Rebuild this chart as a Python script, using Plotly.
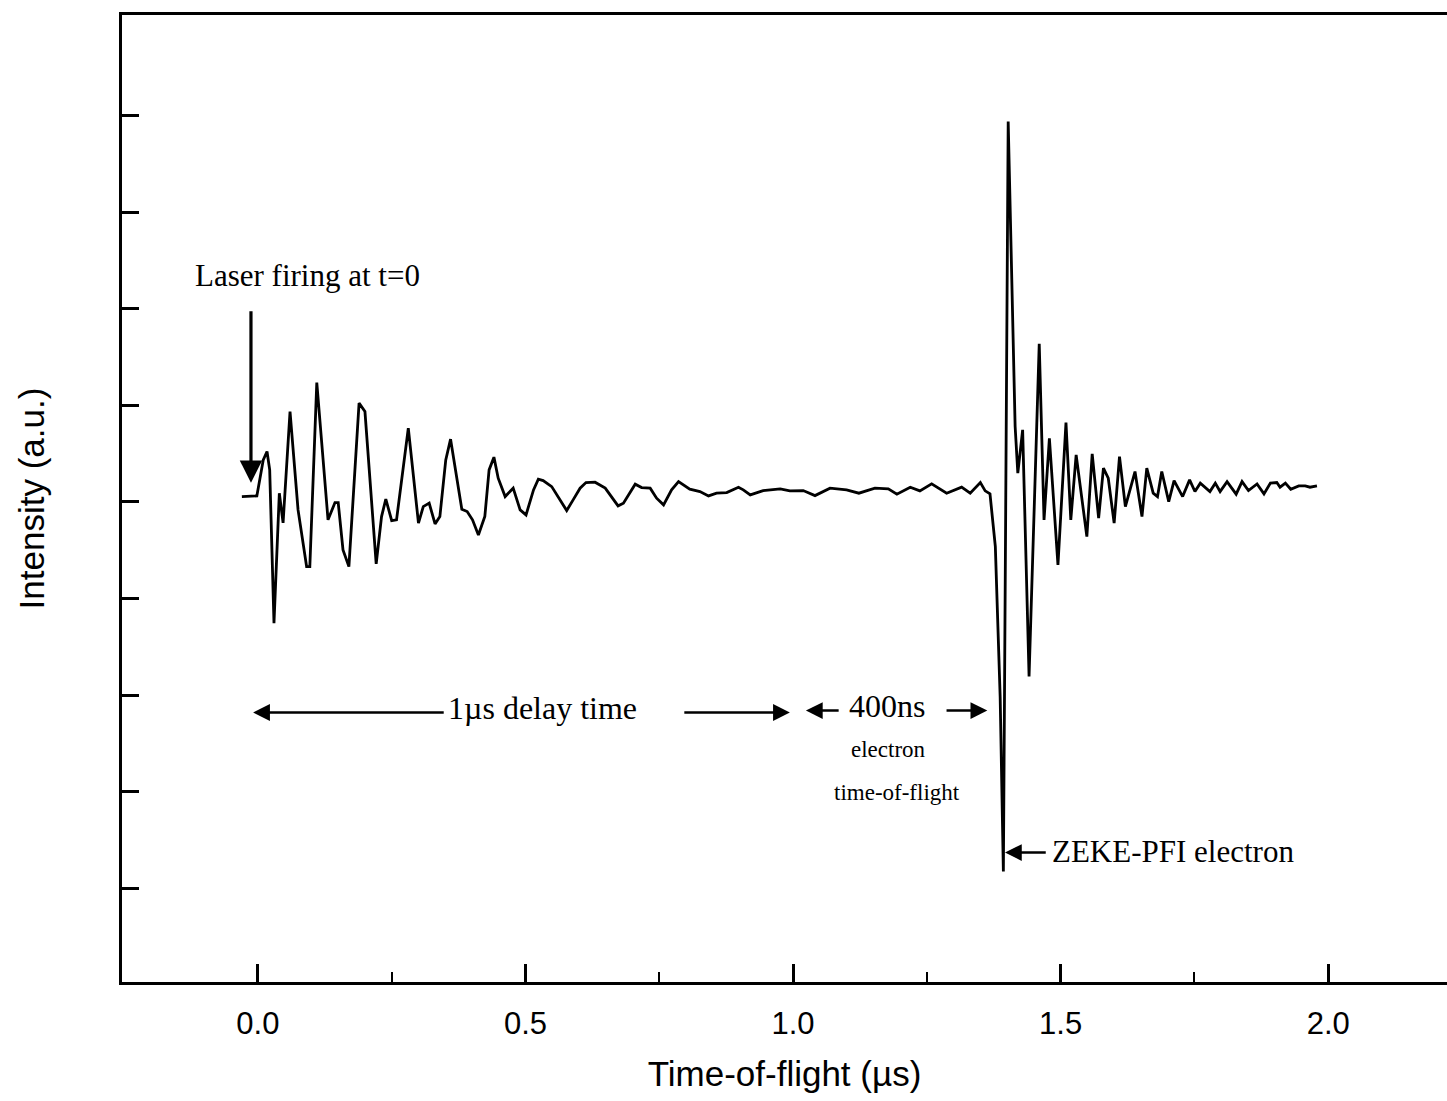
import plotly.graph_objects as go

# Time-of-flight (µs) and intensity (a.u., y-tick spacing = 1 unit)
time_us = [-0.030, -0.002, 0.010, 0.017, 0.022, 0.030, 0.040, 0.047, 0.060, 0.075,
           0.091, 0.097, 0.110, 0.131, 0.144, 0.150, 0.159, 0.170, 0.189, 0.200,
           0.221, 0.231, 0.239, 0.250, 0.259, 0.281, 0.300, 0.309, 0.320, 0.331,
           0.340, 0.351, 0.360, 0.381, 0.391, 0.401, 0.412, 0.424, 0.432, 0.441,
           0.449, 0.462, 0.477, 0.490, 0.501, 0.515, 0.524, 0.533, 0.549, 0.564,
           0.577, 0.589, 0.602, 0.613, 0.630, 0.649, 0.661, 0.673, 0.683, 0.705,
           0.717, 0.733, 0.745, 0.758, 0.773, 0.786, 0.807, 0.826, 0.842, 0.857,
           0.876, 0.898, 0.907, 0.920, 0.944, 0.976, 0.994, 1.019, 1.041, 1.069,
           1.100, 1.123, 1.153, 1.178, 1.194, 1.219, 1.237, 1.259, 1.287, 1.315,
           1.331, 1.350, 1.359, 1.368, 1.378, 1.387, 1.393, 1.402, 1.415, 1.420,
           1.429, 1.441, 1.460, 1.469, 1.479, 1.495, 1.510, 1.519, 1.529, 1.549,
           1.559, 1.571, 1.580, 1.589, 1.600, 1.610, 1.621, 1.639, 1.652, 1.661,
           1.673, 1.681, 1.689, 1.702, 1.712, 1.728, 1.741, 1.751, 1.761, 1.779,
           1.789, 1.798, 1.811, 1.828, 1.839, 1.851, 1.867, 1.880, 1.892, 1.904,
           1.910, 1.920, 1.930, 1.945, 1.957, 1.966, 1.979]
intensity = [0.055, 0.062, 0.435, 0.521, 0.331, -1.256, 0.090, -0.217, 0.935, -0.083,
             -0.670, -0.670, 1.235, -0.186, -0.007, -0.007, -0.497, -0.670, 1.022, 0.935,
             -0.642, -0.152, 0.028, -0.194, -0.186, 0.763, -0.220, -0.049, -0.013, -0.228,
             -0.152, 0.435, 0.649, -0.076, -0.100, -0.186, -0.342, -0.152, 0.331, 0.463,
             0.245, 0.055, 0.142, -0.083, -0.135, 0.124, 0.235, 0.220, 0.158, 0.021,
             -0.090, 0.021, 0.142, 0.200, 0.204, 0.142, 0.055, -0.041, -0.013, 0.183,
             0.148, 0.142, 0.038, -0.031, 0.124, 0.210, 0.131, 0.107, 0.062, 0.090,
             0.096, 0.152, 0.124, 0.072, 0.117, 0.135, 0.114, 0.117, 0.065, 0.142,
             0.124, 0.090, 0.142, 0.135, 0.080, 0.152, 0.114, 0.186, 0.090, 0.152,
             0.090, 0.200, 0.114, 0.083, -0.463, -2.016, -3.827, 3.937, 0.780, 0.297,
             0.745, -1.808, 1.636, -0.186, 0.659, -0.652, 0.821, -0.186, 0.487, -0.359,
             0.497, -0.169, 0.349, 0.245, -0.220, 0.469, -0.049, 0.314, -0.152, 0.349,
             0.090, 0.055, 0.314, 0.003, 0.220, 0.055, 0.228, 0.107, 0.194, 0.107,
             0.194, 0.107, 0.210, 0.080, 0.210, 0.117, 0.186, 0.083, 0.194, 0.200,
             0.152, 0.194, 0.131, 0.166, 0.166, 0.152, 0.166]

x_tick_vals = [0.0, 0.5, 1.0, 1.5, 2.0]
x_tick_text = ["0.0", "0.5", "1.0", "1.5", "2.0"]
x_minor_vals = [0.25, 0.75, 1.25, 1.75]
y_tick_vals = [-4, -3, -2, -1, 0, 1, 2, 3, 4]

SERIF = "Liberation Serif, Times New Roman, serif"
SANS = "Liberation Sans, Arial, Helvetica, sans-serif"

fig = go.Figure()
fig.add_trace(go.Scatter(x=time_us, y=intensity, mode="lines",
                         line=dict(color="black", width=2.8), showlegend=False,
                         hoverinfo="skip"))

ann = []
# text labels
ann.append(dict(x=0.093, y=2.34, text="Laser firing at t=0", showarrow=False,
                font=dict(family=SERIF, size=31, color="black")))
ann.append(dict(x=0.531, y=-2.13, text="1µs delay time", showarrow=False,
                font=dict(family=SERIF, size=32, color="black")))
ann.append(dict(x=1.176, y=-2.11, text="400ns", showarrow=False,
                font=dict(family=SERIF, size=32, color="black")))
ann.append(dict(x=1.178, y=-2.56, text="electron", showarrow=False,
                font=dict(family=SERIF, size=23, color="black")))
ann.append(dict(x=1.194, y=-3.01, text="time-of-flight", showarrow=False,
                font=dict(family=SERIF, size=23, color="black")))
ann.append(dict(x=1.480, y=-3.62, text="ZEKE-PFI electron", showarrow=False,
                xanchor="left", font=dict(family=SERIF, size=31, color="black")))

# arrows (head at x,y ; tail at ax,ay)
arrows = [
    (-0.013, 0.197, -0.013, 1.99, 3.2, 1.4),
    (-0.009, -2.18, 0.350, -2.18, 2.4, 1.4),
    (0.994, -2.18, 0.794, -2.18, 2.4, 1.4),
    (1.024, -2.16, 1.088, -2.16, 2.4, 1.4),
    (1.363, -2.16, 1.284, -2.16, 2.4, 1.4),
    (1.396, -3.63, 1.475, -3.63, 2.4, 1.4),
]
for hx, hy, tx, ty, w, s in arrows:
    ann.append(dict(x=hx, y=hy, ax=tx, ay=ty, xref="x", yref="y", axref="x", ayref="y",
                    text="", showarrow=True, arrowhead=2, arrowwidth=w, arrowsize=s,
                    arrowcolor="black"))

fig.update_layout(
    width=1447, height=1101,
    margin=dict(l=122, r=0, t=15, b=119),
    paper_bgcolor="white", plot_bgcolor="white",
    annotations=ann,
    xaxis=dict(range=[-0.254, 2.222], showgrid=False, zeroline=False,
               showline=True, linecolor="black", linewidth=3, mirror=True,
               tickvals=x_tick_vals, ticktext=x_tick_text,
               ticks="inside", ticklen=18, tickwidth=3, tickcolor="black",
               minor=dict(tickvals=x_minor_vals, ticks="inside", ticklen=10,
                          tickwidth=2, tickcolor="black", showgrid=False),
               tickfont=dict(family=SANS, size=31, color="black"),
               ticklabelstandoff=12,
               title=dict(text="Time-of-flight (µs)",
                          font=dict(family=SANS, size=35, color="black"),
                          standoff=22)),
    yaxis=dict(range=[-4.97, 5.04], showgrid=False, zeroline=False,
               showline=True, linecolor="black", linewidth=3, mirror=False,
               tickvals=y_tick_vals, showticklabels=False,
               ticks="inside", ticklen=17, tickwidth=3, tickcolor="black",
               title=dict(text="Intensity (a.u.)",
                          font=dict(family=SANS, size=35, color="black"),
                          standoff=64)),
)

fig.write_html("out.html")
